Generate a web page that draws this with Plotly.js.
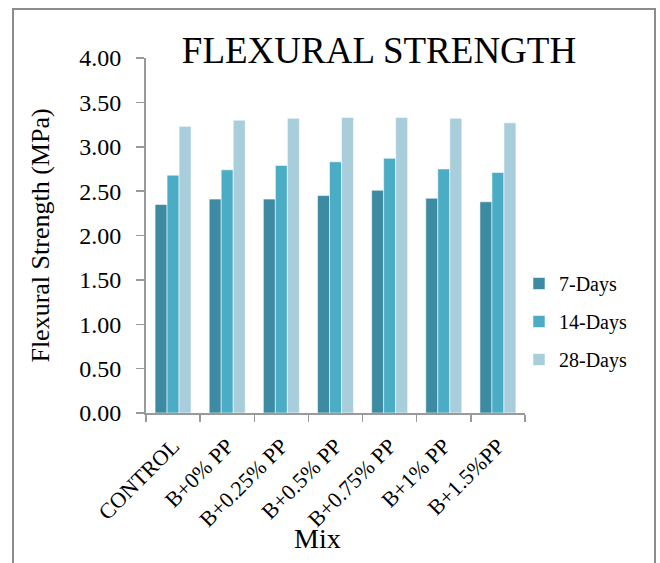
<!DOCTYPE html>
<html>
<head>
<meta charset="utf-8">
<script src="https://cdn.plot.ly/plotly-3.0.1.min.js"></script>
<style>
  html, body { margin: 0; padding: 0; background: #fff; }
  #chart { width: 660px; height: 563px; }
</style>
</head>
<body>
<div id="chart"></div>
<script>
const categories = ["CONTROL", "B+0% PP", "B+0.25% PP", "B+0.5% PP", "B+0.75% PP", "B+1% PP", "B+1.5%PP"];
const seriesNames = ["7-Days", "14-Days", "28-Days"];
const days7  = [2.35, 2.41, 2.41, 2.45, 2.51, 2.42, 2.38];
const days14 = [2.68, 2.74, 2.79, 2.83, 2.87, 2.75, 2.71];
const days28 = [3.23, 3.30, 3.32, 3.33, 3.33, 3.32, 3.27];
const colors = ["#3D8BA2", "#4BACC6", "#A8CEDC"];

const seriesValues = [days7, days14, days28];
const traces = seriesValues.map((vals, i) => ({
  type: "bar",
  name: seriesNames[i],
  x: categories,
  y: vals,
  legendgroup: "g" + i,
  marker: { color: colors[i], line: { color: "rgba(255,255,255,0.55)", width: 1 } }
}));

const L = 146, R = 135, T = 58, B = 150;
const W = 660, H = 563;
const pw = W - L - R, ph = H - T - B;
const px = v => (v - L) / pw;
const py = v => (H - B - v) / ph;

const font = "Liberation Serif, Times New Roman, serif";
const layout = {
  width: W, height: H,
  margin: { l: L, r: R, t: T, b: B, pad: 0 },
  paper_bgcolor: "#fff",
  plot_bgcolor: "#fff",
  font: { family: font, color: "#000" },
  showlegend: true,
  barmode: "group",
  bargap: 0.335,
  bargroupgap: 0,
  title: {
    text: "FLEXURAL STRENGTH",
    font: { family: font, size: 37, color: "#000" },
    x: px(379), xanchor: "center", xref: "paper",
    y: 1 - 50 / H, yanchor: "middle"
  },
  xaxis: {
    type: "category",
    tickangle: -45,
    tickfont: { family: font, size: 22, color: "#000" },
    ticklabelstandoff: 10,
    showline: true, linecolor: "#9a9a9a", linewidth: 1.5,
    ticks: "outside", tickson: "boundaries", ticklen: 7, tickcolor: "#9a9a9a", tickwidth: 1.5,
    showgrid: false,
    automargin: false
  },
  yaxis: {
    range: [0, 4],
    dtick: 0.5,
    tickformat: ".2f",
    tickfont: { family: font, size: 24, color: "#000" },
    ticklabelstandoff: 10,
    showline: true, linecolor: "#9a9a9a", linewidth: 2,
    ticks: "outside", ticklen: 8, tickcolor: "#9a9a9a", tickwidth: 1.5,
    showgrid: false, zeroline: false,
    title: { text: "Flexural Strength (MPa)", font: { family: font, size: 26, color: "#000" }, standoff: 22 },
    automargin: false
  },
  annotations: [{
    text: "Mix", xref: "paper", yref: "paper",
    x: px(317), y: py(538), xanchor: "center", yanchor: "middle",
    showarrow: false, font: { family: font, size: 28, color: "#000" }
  }],
  legend: {
    x: px(519), y: py(264), xanchor: "left", yanchor: "top",
    font: { family: font, size: 20, color: "#000" },
    traceorder: "grouped",
    tracegroupgap: 9,
    itemwidth: 30,
    bgcolor: "rgba(0,0,0,0)"
  },
  shapes: [{
    type: "rect", xref: "paper", yref: "paper",
    x0: px(13), x1: px(655), y0: py(575), y1: py(9),
    line: { color: "#8c8c8c", width: 2 }, fillcolor: "rgba(0,0,0,0)", layer: "below"
  }]
};

Plotly.newPlot("chart", traces, layout, { displayModeBar: false, staticPlot: true });
</script>
</body>
</html>
